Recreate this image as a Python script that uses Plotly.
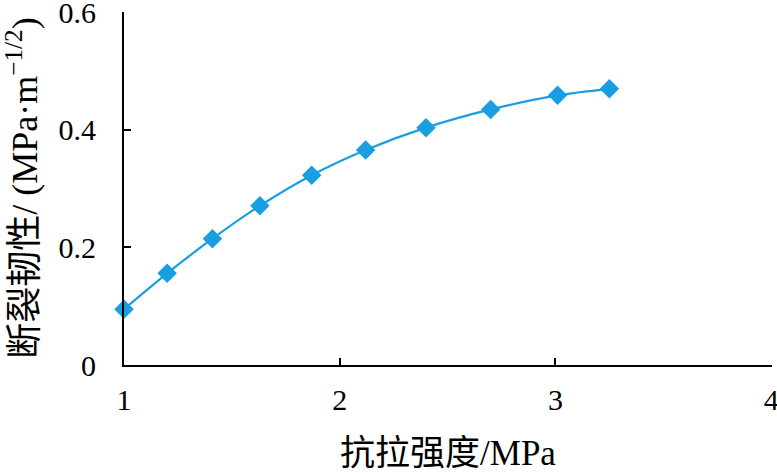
import plotly.graph_objects as go

# Data
tensile_strength = [1.0, 1.2, 1.41, 1.63, 1.87, 2.12, 2.4, 2.7, 3.01, 3.25]
fracture_toughness = [0.095, 0.156, 0.215, 0.271, 0.323, 0.366, 0.404, 0.435, 0.459, 0.470]

x_ticks = [1, 2, 3, 4]
y_ticks = [0, 0.2, 0.4, 0.6]
y_tick_labels = ["0", "0.2", "0.4", "0.6"]

font_family = "Liberation Serif, Times New Roman, Noto Sans CJK SC, serif"
blue = "#1a9ee2"

fig = go.Figure()

fig.add_trace(go.Scatter(
    x=tensile_strength, y=fracture_toughness,
    mode="lines+markers",
    line=dict(color=blue, width=2.2, shape="spline", smoothing=0.8),
    marker=dict(symbol="diamond", size=15, color=blue),
    showlegend=False,
    cliponaxis=False,
))

fig.update_layout(
    width=777, height=473,
    margin=dict(l=124, r=5, t=12, b=108),
    paper_bgcolor="white",
    plot_bgcolor="white",
    font=dict(family=font_family, size=30, color="black"),
    xaxis=dict(
        range=[1, 4.004],
        tickvals=x_ticks,
        tickfont=dict(family=font_family, size=30),
        ticks="inside", ticklen=7, tickwidth=1.5, tickcolor="black",
        showline=True, linecolor="black", linewidth=2,
        showgrid=False, zeroline=False,
        automargin=False,
        ticklabeloverflow="allow",
        ticklabelstandoff=7,
        title=dict(text="抗拉强度/MPa", standoff=27,
                   font=dict(family=font_family, size=35)),
    ),
    yaxis=dict(
        range=[0, 0.6008],
        tickvals=y_ticks, ticktext=y_tick_labels,
        tickfont=dict(family=font_family, size=30),
        ticks="inside", ticklen=7, tickwidth=1.5, tickcolor="black",
        showline=True, linecolor="black", linewidth=2,
        showgrid=False, zeroline=False,
        automargin=False,
        ticklabeloverflow="allow",
        ticklabelstandoff=20,
    ),
)

# y-axis title as a rotated annotation for finer placement
fig.add_annotation(
    text="断裂韧性/ (MPa·m<sup>−1/2</sup>)",
    xref="paper", yref="paper",
    x=-0.157, y=0.5,
    xanchor="center", yanchor="middle",
    textangle=-90, showarrow=False,
    font=dict(family=font_family, size=36),
)

# drop the browser's default body margin so the figure fills the window
fig.write_html("out.html", config={"displayModeBar": False},
               post_script="document.body.style.margin='0';")
